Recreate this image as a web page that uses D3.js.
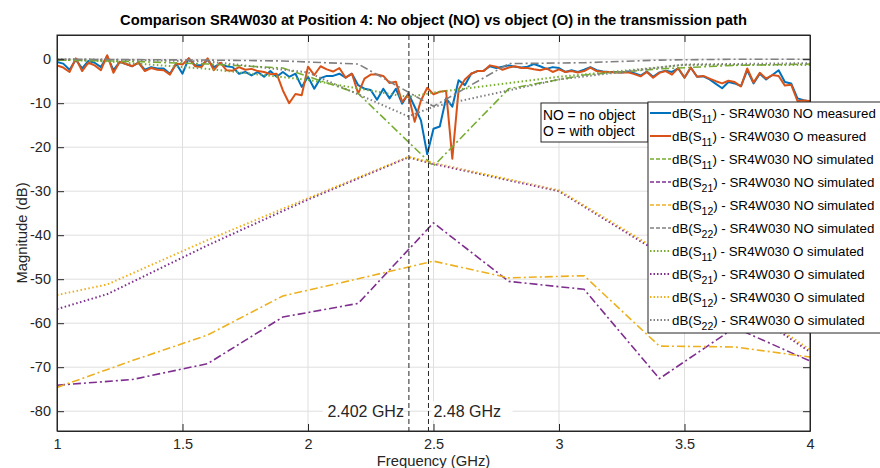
<!DOCTYPE html>
<meta charset="utf-8">
<title>SR4W030 Position 4</title>
<style>
body { margin: 0; background: #fff; }
svg { display: block; font-family: "Liberation Sans", Arial, Helvetica, sans-serif; }
.tick text { fill: #262626; font-size: 14.5px; }
</style>
<body>
<script src="https://cdn.jsdelivr.net/npm/d3@7"></script>
<script>
'use strict';

// measured sweep: 1 .. 4 GHz, 0.025 GHz step
const measStart = 1, measStep = 0.025;
const s11MeasNO = [-0.6, -1.0, -2.4, -0.1, -2.1, -0.4, -0.8, -1.8, 0.7, -2.5, -0.6, -1.1, -1.6, -0.8, -2.4, -1.8, -2.1, -2.1, -3.3, -1.0,
  -3.3, 0.2, -1.4, -1.4, -0.2, -1.8, -1.0, -1.6, -1.8, -3.3, -2.9, -3.7, -2.9, -4.0, -2.7, -4.0, -2.9, -4.0, -3.3, -6.3,
  -4.0, -6.7, -4.3, -3.8, -3.8, -3.3, -4.2, -3.3, -5.9, -6.7, -7.0, -9.2, -6.7, -8.9, -6.7, -10.1, -7.8, -10.8, -13.9, -21.6,
  -15.8, -15.3, -8.9, -10.8, -4.8, -5.9, -3.3, -2.7, -2.6, -1.6, -2.0, -1.7, -1.4, -1.7, -1.9, -1.7, -1.1, -1.6, -2.2, -1.8,
  -2.0, -2.9, -2.5, -2.9, -2.4, -1.8, -2.5, -2.8, -2.9, -2.9, -3.0, -2.8, -3.2, -3.7, -2.8, -4.0, -3.0, -2.6, -2.9, -2.1,
  -4.2, -1.9, -4.0, -3.9, -4.6, -5.6, -6.6, -5.2, -5.5, -6.1, -2.5, -5.5, -3.3, -4.6, -3.6, -2.5, -5.2, -5.5, -8.9, -9.3, -9.6];
const s11MeasO = [-1.4, -1.9, -2.9, 0.2, -2.7, -0.8, -1.4, -2.5, 0.9, -3.1, -0.6, -1.1, -1.6, -0.8, -2.7, -2.0, -2.4, -2.5, -3.5, -1.0,
  -1.2, 0.2, -1.6, -1.8, 0.2, -2.5, -0.8, -2.5, -2.6, -1.8, -2.4, -2.2, -2.7, -2.9, -3.4, -3.3, -7.1, -10.0, -7.9, -8.2,
  -1.7, -3.6, -1.6, -2.3, -2.8, -2.0, -4.2, -3.3, -7.8, -4.4, -3.5, -3.5, -3.8, -5.4, -5.1, -9.7, -8.0, -14.2, -9.4, -6.5,
  -8.0, -7.4, -7.2, -22.6, -6.9, -4.6, -3.3, -2.7, -2.7, -1.4, -1.7, -2.4, -1.9, -1.6, -2.0, -2.0, -2.3, -2.5, -2.1, -2.9,
  -2.3, -2.9, -2.7, -3.0, -2.7, -1.9, -2.7, -2.9, -2.9, -3.0, -3.0, -3.0, -3.4, -3.9, -2.9, -4.2, -3.1, -2.7, -3.5, -2.0,
  -4.2, -1.9, -4.0, -3.8, -4.4, -5.0, -5.5, -4.9, -5.2, -6.2, -2.1, -5.3, -3.1, -4.4, -3.6, -3.8, -6.0, -5.8, -9.5, -9.4, -9.5];

// simulation, no object
const freqSimNO = [1, 1.3, 1.6, 1.9, 2.2, 2.5, 2.8, 3.1, 3.4, 3.7, 4];
const s11SimNO = [-0.2, -0.5, -1.1, -2.0, -7.8, -24.3, -6.7, -3.6, -2.2, -1.4, -1.1];
const s21SimNO = [-74.1, -72.8, -69.2, -58.6, -55.5, -37.2, -50.5, -52.3, -72.6, -61.0, -68.6];
const s12SimNO = [-74.6, -68.5, -62.7, -53.8, -49.9, -45.9, -49.7, -49.2, -65.2, -65.4, -67.7];
const s22SimNO = [0, -0.1, -0.2, -0.4, -1.1, -10.7, -1.0, -0.8, -0.2, 0, 0];

// simulation, with object
const freqSimO = [1, 1.2, 1.6, 2.0, 2.4, 2.5, 3.0, 3.5, 4];
const s11SimO = [-0.1, -0.5, -2.2, -4.7, -8.6, -7.6, -4.0, -1.3, -1.3];
const s21SimO = [-56.8, -53.4, -42.3, -31.9, -22.3, -23.8, -30.0, -47.5, -66.5];
const s12SimO = [-53.6, -51.2, -41.1, -31.6, -22.2, -23.6, -29.8, -47.0, -66.0];
const s22SimO = [0, -0.1, -0.5, -3.0, -13.0, -10.8, -4.6, -1.2, -0.9];

const markers = [2.402, 2.48];
const xTicks = [1, 1.5, 2, 2.5, 3, 3.5, 4];
const yTicks = [-80, -70, -60, -50, -40, -30, -20, -10, 0];

const W = 880, H = 468;
const margin = {top: 35, right: 70, bottom: 37, left: 57};
const iw = W - margin.left - margin.right,
      ih = H - margin.top - margin.bottom;

const blue = "#0072BD", orange = "#D95319", yellow = "#EDB120",
      purple = "#7E2F8E", green = "#77AC30", gray = "#808080";
const dashDot = "8,3,2,3", dotted = "1.5,2.5";

const x = d3.scaleLinear().domain([1, 4]).range([0, iw]);
const y = d3.scaleLinear().domain([-84.5, 5.5]).range([ih, 0]);

const svg = d3.select("body").append("svg").attr("width", W).attr("height", H);
const g = svg.append("g").attr("transform", `translate(${margin.left},${margin.top})`);

svg.append("defs").append("clipPath").attr("id", "clip")
  .append("rect").attr("width", iw).attr("height", ih);

// grid
g.append("g").selectAll("line").data(xTicks.slice(1, -1)).join("line")
  .attr("x1", d => x(d)).attr("x2", d => x(d)).attr("y1", 0).attr("y2", ih)
  .attr("stroke", "#dfdfdf");
g.append("g").selectAll("line").data(yTicks).join("line")
  .attr("y1", d => y(d)).attr("y2", d => y(d)).attr("x1", 0).attr("x2", iw)
  .attr("stroke", "#dfdfdf");

const measFreq = s11MeasNO.map((_, i) => measStart + i * measStep);
const series = [
  {name: "11", label: " - SR4W030 NO measured", f: measFreq, v: s11MeasNO, color: blue, dash: null, w: 2},
  {name: "11", label: " - SR4W030 O measured", f: measFreq, v: s11MeasO, color: orange, dash: null, w: 2},
  {name: "11", label: " - SR4W030 NO simulated", f: freqSimNO, v: s11SimNO, color: green, dash: dashDot, w: 1.6},
  {name: "21", label: " - SR4W030 NO simulated", f: freqSimNO, v: s21SimNO, color: purple, dash: dashDot, w: 1.6},
  {name: "12", label: " - SR4W030 NO simulated", f: freqSimNO, v: s12SimNO, color: yellow, dash: dashDot, w: 1.6},
  {name: "22", label: " - SR4W030 NO simulated", f: freqSimNO, v: s22SimNO, color: gray, dash: dashDot, w: 1.6},
  {name: "11", label: " - SR4W030 O simulated", f: freqSimO, v: s11SimO, color: green, dash: dotted, w: 2},
  {name: "21", label: " - SR4W030 O simulated", f: freqSimO, v: s21SimO, color: purple, dash: dotted, w: 2},
  {name: "12", label: " - SR4W030 O simulated", f: freqSimO, v: s12SimO, color: yellow, dash: dotted, w: 2},
  {name: "22", label: " - SR4W030 O simulated", f: freqSimO, v: s22SimO, color: gray, dash: dotted, w: 2}
];

const line = d3.line().x(d => x(d[0])).y(d => y(d[1]));
g.append("g").attr("clip-path", "url(#clip)").selectAll("path").data(series).join("path")
  .attr("d", s => line(s.f.map((f, i) => [f, s.v[i]])))
  .attr("fill", "none")
  .attr("stroke", s => s.color)
  .attr("stroke-width", s => s.w)
  .attr("stroke-dasharray", s => s.dash)
  .attr("stroke-linejoin", "round");

// marker lines
g.append("g").selectAll("line").data(markers).join("line")
  .attr("x1", d => x(d)).attr("x2", d => x(d)).attr("y1", 0).attr("y2", ih)
  .attr("stroke", "#262626").attr("stroke-width", 1).attr("stroke-dasharray", "5,3");
const mlab = g.append("g").selectAll("g").data(markers).join("g");
mlab.append("rect")
  .attr("x", (d, i) => i === 0 ? x(d) - 86 : x(d) + 3)
  .attr("y", y(-80) - 10).attr("width", 81).attr("height", 19).attr("fill", "#fff");
mlab.append("text")
  .attr("x", (d, i) => i === 0 ? x(d) - 5 : x(d) + 5)
  .attr("y", y(-80) + 5.5)
  .attr("text-anchor", (d, i) => i === 0 ? "end" : "start")
  .attr("font-size", 16).attr("fill", "#262626")
  .text(d => d + " GHz");

// axes
const xAxis = g.append("g").attr("transform", `translate(0,${ih})`)
  .call(d3.axisBottom(x).tickValues(xTicks).tickFormat(d3.format("")).tickSizeInner(-7).tickSizeOuter(0).tickPadding(11));
const yAxis = g.append("g")
  .call(d3.axisLeft(y).tickValues(yTicks).tickFormat(d => d).tickSizeInner(-7).tickSizeOuter(0).tickPadding(6));
g.append("g").call(d3.axisTop(x).tickValues(xTicks).tickFormat("").tickSizeInner(-7).tickSizeOuter(0));
g.append("g").attr("transform", `translate(${iw},0)`)
  .call(d3.axisRight(y).tickValues(yTicks).tickFormat("").tickSizeInner(-7).tickSizeOuter(0));
g.selectAll(".domain, .tick line").attr("stroke", "#262626");
xAxis.selectAll("text").attr("dy", "0.5em");
g.append("rect").attr("width", iw).attr("height", ih)
  .attr("fill", "none").attr("stroke", "#262626").attr("stroke-width", 1);

// labels
svg.append("text").attr("x", margin.left + iw / 2).attr("y", 25)
  .attr("text-anchor", "middle").attr("font-weight", "bold").attr("font-size", 14.7).attr("fill", "#000")
  .text("Comparison SR4W030 at Position 4: No object (NO) vs object (O) in the transmission path");
svg.append("text").attr("x", margin.left + iw / 2).attr("y", 466)
  .attr("text-anchor", "middle").attr("font-size", 14.8).attr("fill", "#262626")
  .text("Frequency (GHz)");
svg.append("text").attr("transform", `translate(27,${margin.top + ih / 2}) rotate(-90)`)
  .attr("text-anchor", "middle").attr("font-size", 14.8).attr("fill", "#262626")
  .text("Magnitude (dB)");

// note box
const note = svg.append("g").attr("transform", "translate(541,103)");
note.append("rect").attr("width", 107).attr("height", 39)
  .attr("fill", "#fff").attr("stroke", "#262626").attr("stroke-width", 1);
note.selectAll("text").data(["NO = no object", "O = with object"]).join("text")
  .attr("x", 2).attr("y", (d, i) => 17 + i * 16)
  .attr("font-size", 13.8).attr("fill", "#000").text(d => d);

// legend
const leg = svg.append("g").attr("transform", "translate(648,102)");
leg.append("rect").attr("width", 240).attr("height", 231)
  .attr("fill", "#fff").attr("stroke", "#262626").attr("stroke-width", 1);
const item = leg.selectAll("g.item").data(series).join("g").attr("class", "item")
  .attr("transform", (d, i) => `translate(0,${11 + i * 23})`);
item.append("line").attr("x1", 2).attr("x2", 23).attr("y1", 0).attr("y2", 0)
  .attr("stroke", d => d.color).attr("stroke-width", d => d.w)
  .attr("stroke-dasharray", d => d.dash ? (d.dash === dotted ? "1.5,2" : "4,2") : null);
const t = item.append("text").attr("x", 24).attr("y", 5).attr("font-size", 13.3).attr("fill", "#000");
t.append("tspan").text("dB(S");
t.append("tspan").attr("font-size", 10.5).attr("dy", 5).text(d => d.name);
t.append("tspan").attr("dy", -5).text(d => ")" + d.label);
</script>
</body>
